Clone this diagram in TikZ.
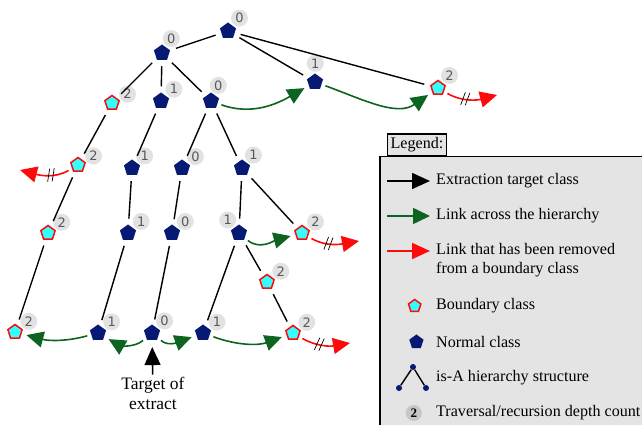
\documentclass[tikz,border=0pt]{standalone}
\usepackage{fontspec}
\setmainfont{Liberation Serif}
\newfontfamily\depthfont{DejaVu Sans}
\usetikzlibrary{shapes.geometric, arrows.meta, positioning, decorations.markings}
\definecolor{ClassNavy}{HTML}{061A73}
\definecolor{BoundCyan}{HTML}{33FFFF}
\definecolor{CutRed}{HTML}{FF0A0A}
\definecolor{LinkGreen}{HTML}{0C6420}
\definecolor{LegendGrey}{HTML}{E4E4E4}
\definecolor{DepthGrey}{HTML}{E2E2E2}

% clase normal / clase frontera: nombre, posicion, angulo de la etiqueta, profundidad
\newcommand{\normcls}[4]{\node[normal, label={[depth]#3:#4}] (#1) at (#2) {};}
\newcommand{\boundcls}[4]{\node[boundary, label={[depth]#3:#4}] (#1) at (#2) {};}

\begin{document}
\begin{tikzpicture}[
    x=1pt, y=1pt,
    % Estilos para clases
    normal/.style={
            regular polygon,
            regular polygon sides=5,
            minimum size=17pt,
            inner sep=0pt,
            fill=ClassNavy
        },
    boundary/.style={
            regular polygon,
            regular polygon sides=5,
            minimum size=15pt,
            inner sep=0pt,
            fill=BoundCyan,
            draw=CutRed,
            line width=1.5pt
        },
    % Contador de profundidad
    depth/.style={
            circle,
            fill=DepthGrey,
            minimum size=17pt,
            inner sep=0pt,
            label distance=1.5pt,
            text=black!65,
            font=\depthfont\fontsize{13}{13}\selectfont
        },
    % Jerarquia is-A
    isa/.style={
            line width=1.4pt,
            shorten <=6pt,
            shorten >=6pt
        },
    % Flechas
    extraction/.style={
    -{Triangle[length=18pt,width=16pt]},
    line width=1.6pt,
    color=black
    },
    link/.style={
    -{Triangle[length=17pt,width=16pt]},
    line width=1.6pt,
    color=LinkGreen,
    shorten <=4pt,
    shorten >=5pt
    },
    cut/.style={
    -{Triangle[length=17pt,width=16pt]},
    line width=1.6pt,
    color=CutRed,
    shorten <=4pt,
    postaction={decorate},
    decoration={markings, mark=at position 0.4 with {
                \draw[black, line width=0.7pt, -, shorten <=0pt, shorten >=0pt]
                (-3pt,-6.5pt) -- (0pt,6.5pt) (1.5pt,-6.5pt) -- (4.5pt,6.5pt);}}
    },
    % Leyenda
    legtext/.style={
            anchor=west,
            inner sep=0pt,
            font=\fontsize{16.1}{19}\selectfont
        },
    isadot/.style={
            circle,
            fill=ClassNavy,
            minimum size=6pt,
            inner sep=0pt
        }
    ]
    \clip (0,0) rectangle (642,425);

    % ========== CLASES ==========
    \normcls{top}{228,394}{52}{0}
    \normcls{cA}{162,372}{69}{0}
    \normcls{cB}{315,343}{88}{1}
    \boundcls{cC}{438,337}{50}{2}

    % rama izquierda (fronteras)
    \boundcls{d1}{112,322}{16}{2}
    \boundcls{d2}{78,260}{17}{2}
    \boundcls{d3}{48,192}{31}{2}
    \boundcls{d4}{15,93}{31}{2}

    % rama central
    \normcls{e1}{161,324}{40}{1}
    \normcls{e2}{132,257}{42}{1}
    \normcls{e3}{128,192}{38}{1}
    \normcls{e4}{98,92}{34}{1}

    % rama derecha
    \normcls{f}{211,324}{83}{0}
    \normcls{f1}{182,257}{36}{0}
    \normcls{f2}{172,192}{37}{0}
    \normcls{f3}{152,92}{43}{0}
    \normcls{g1}{242,257}{52}{1}
    \normcls{g2}{239,192}{127}{1}
    \normcls{g3}{203,92}{31}{1}
    \boundcls{h1}{302,192}{34}{2}
    \boundcls{h2}{267,143}{31}{2}
    \boundcls{h3}{293,92}{31}{2}

    % extremos de los enlaces eliminados
    \coordinate (cCcut) at (497,330);
    \coordinate (d2cut) at (20,255);
    \coordinate (h1cut) at (359,184);
    \coordinate (h3cut) at (350,82);

    % ========== JERARQUIA is-A ==========
    \draw[isa] (top) -- (cA);
    \draw[isa] (top) -- (cB);
    \draw[isa] (top) -- (cC);
    \draw[isa] (cA) -- (d1);
    \draw[isa] (cA) -- (e1);
    \draw[isa] (cA) -- (f);
    \draw[isa] (d1) -- (d2);
    \draw[isa] (d2) -- (d3);
    \draw[isa] (d3) -- (d4);
    \draw[isa] (e1) -- (e2);
    \draw[isa] (e2) -- (e3);
    \draw[isa] (e3) -- (e4);
    \draw[isa] (f) -- (f1);
    \draw[isa] (f) -- (g1);
    \draw[isa] (f1) -- (f2);
    \draw[isa] (f2) -- (f3);
    \draw[isa] (g1) -- (g2);
    \draw[isa] (g1) -- (h1);
    \draw[isa] (g2) -- (g3);
    \draw[isa] (g2) -- (h2);
    \draw[isa] (h2) -- (h3);

    % ========== ENLACES ENTRE JERARQUIAS ==========
    \draw[link] (f) to[out=-20, in=210] (cB);
    \draw[link] (cB) to[out=-20, in=215] (cC);
    \draw[link] (g2) to[out=-40, in=195] (h1);
    \draw[link] (f3) to[out=220, in=-30] (e4);
    \draw[link] (e4) to[out=195, in=-15] (d4);
    \draw[link] (f3) to[out=-40, in=200] (g3);
    \draw[link] (g3) to[out=-20, in=200] (h3);

    % Enlaces eliminados
    \draw[cut] (cC) to[out=-30, in=195] (cCcut);
    \draw[cut] (d2) to[out=210, in=-15] (d2cut);
    \draw[cut] (h1) to[out=-30, in=190] (h1cut);
    \draw[cut] (h3) to[out=-30, in=190] (h3cut);

    % ========== OBJETIVO ==========
    \node[anchor=center, align=center, inner sep=0pt,
        font=\fontsize{17.5}{20}\selectfont] (target) at (153,32) {Target of\\extract};
    \draw[extraction, shorten <=2pt, shorten >=7pt] (target) -- (f3);

    % ========== LEYENDA ==========
    \node[draw, fill=LegendGrey, line width=1.5pt, anchor=north west,
        minimum width=300pt, minimum height=320pt] (legend) at (379,269) {};
    \node[draw, fill=LegendGrey, line width=1.2pt, inner xsep=3pt, minimum height=20pt,
        font=\fontsize{16.1}{19}\selectfont, above right=0pt and 8pt of legend.north west] (legtitle) {Legend:};

    \node[legtext] (lgt1) at (436,244) {Extraction target class};
    \node[legtext, below=35pt of lgt1.west, anchor=west] (lgt2) {Link across the hierarchy};
    \node[legtext, below=44.5pt of lgt2.west, anchor=west, align=left] (lgt3) {Link that has been removed\\from a boundary class};
    \node[legtext, below=45.5pt of lgt3.west, anchor=west] (lgt4) {Boundary class};
    \node[legtext, below=36pt of lgt4.west, anchor=west] (lgt5) {Normal class};
    \node[legtext, below=36pt of lgt5.west, anchor=west] (lgt6) {is-A hierarchy structure};
    \node[legtext, below=35pt of lgt6.west, anchor=west] (lgt7) {Traversal/recursion depth count};

    % Simbolos
    \draw[extraction] ([xshift=-49pt]lgt1.west) -- ([xshift=-6pt]lgt1.west);
    \draw[link, shorten <=0pt, shorten >=0pt] ([xshift=-49pt]lgt2.west) -- ([xshift=-6pt]lgt2.west);
    \draw[extraction, color=CutRed] ([xshift=-49pt,yshift=9.5pt]lgt3.west) -- ([xshift=-6pt,yshift=9.5pt]lgt3.west);
    \node[boundary, minimum size=13pt, left=15pt of lgt4.west] (lgbound) {};
    \node[normal, minimum size=15pt, left=13pt of lgt5.west] (lgnormal) {};
    \node[isadot] (isaTop) at ([xshift=-23pt,yshift=11pt]lgt6.west) {};
    \node[isadot] (isaL) at ([xshift=-37pt,yshift=-10pt]lgt6.west) {};
    \node[isadot] (isaR) at ([xshift=-10pt,yshift=-10pt]lgt6.west) {};
    \draw[isa, shorten <=0pt, shorten >=0pt] (isaTop) -- (isaL);
    \draw[isa, shorten <=0pt, shorten >=0pt] (isaTop) -- (isaR);
    \node[circle, fill=gray!45, minimum size=16pt, inner sep=0pt,
        font=\bfseries\fontsize{13}{13}\selectfont, left=14pt of lgt7.west] (lgdepth) {2};

\end{tikzpicture}
\end{document}
